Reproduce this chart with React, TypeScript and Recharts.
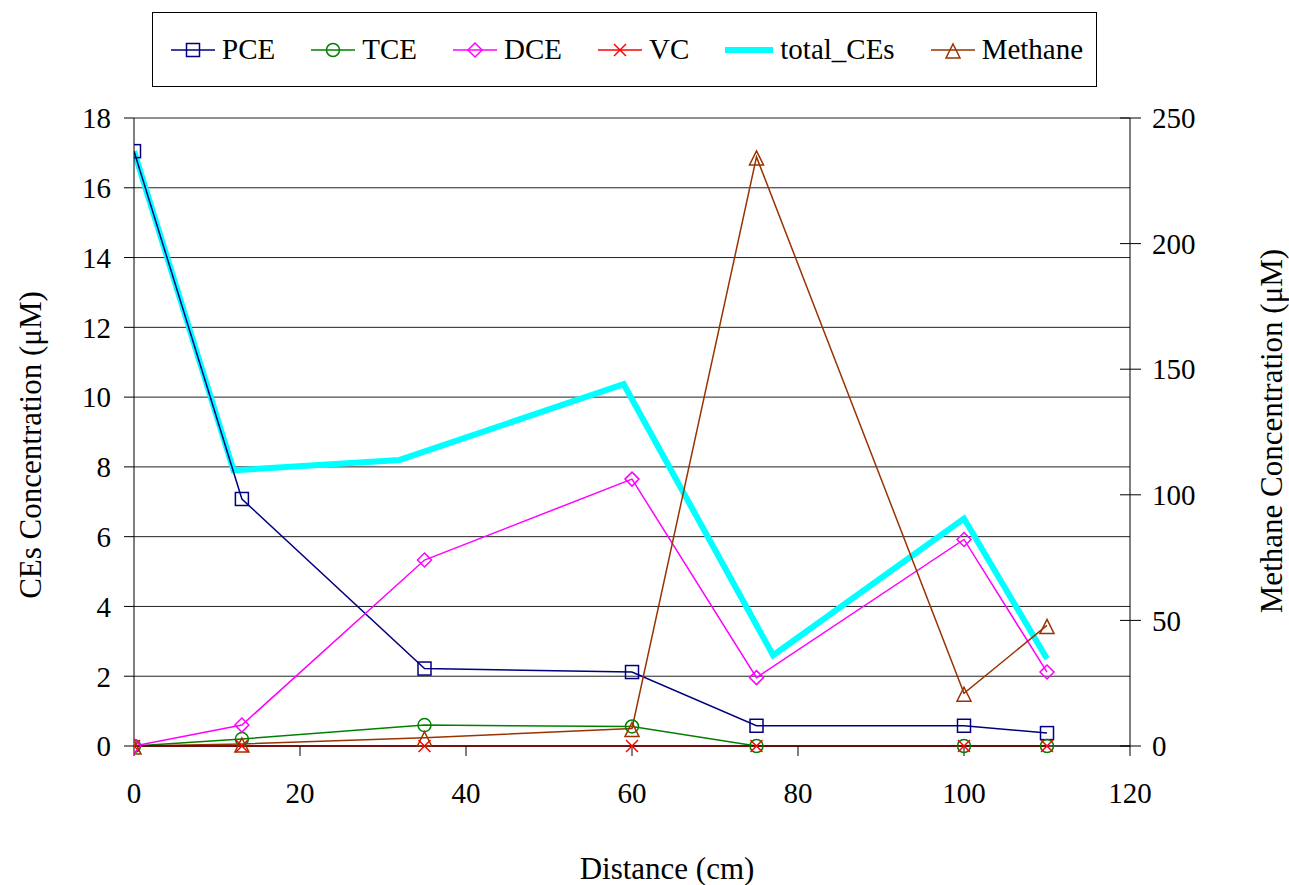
import { ComposedChart, Line, XAxis, YAxis, CartesianGrid, Legend } from 'recharts'

const FONT = 'Liberation Serif, DejaVu Serif, Times New Roman, serif'

// sampling positions along the column (cm)
const distance = [0, 13, 35, 60, 75, 100, 110]
const pce = [17.05, 7.08, 2.22, 2.12, 0.58, 0.58, 0.37]
const tce = [0, 0.2, 0.6, 0.56, 0, 0, 0]
const dce = [0, 0.6, 5.33, 7.65, 1.96, 5.92, 2.12]
const vc = [0, 0, 0, 0, 0, 0, 0]
const methane = [0, 0.8, 3.3, 7, 234.5, 21, 48]

// total CEs was plotted against its own distance column
const totalDistance = [0, 12, 32, 59, 77, 100, 110]
const totalCEs = [17.05, 7.9, 8.2, 10.37, 2.6, 6.52, 2.5]

const xTicks = [0, 20, 40, 60, 80, 100, 120]
const leftTicks = [0, 2, 4, 6, 8, 10, 12, 14, 16, 18]
const rightTicks = [0, 50, 100, 150, 200, 250]

const seriesNames = ['PCE', 'TCE', 'DCE', 'VC', 'total_CEs', 'Methane']

const rows = distance.map((d, i) => ({
  distance: d,
  pce: pce[i],
  tce: tce[i],
  dce: dce[i],
  vc: vc[i],
  methane: methane[i],
}))

const totalRows = totalDistance.map((d, i) => ({ distance: d, total: totalCEs[i] }))

type Shape = 'square' | 'circle' | 'diamond' | 'cross' | 'triangle' | 'none'

const legendItems: { shape: Shape; color: string; width: number }[] = [
  { shape: 'square', color: '#000080', width: 1.5 },
  { shape: 'circle', color: '#008000', width: 1.5 },
  { shape: 'diamond', color: '#FF00FF', width: 1.5 },
  { shape: 'cross', color: '#FF0000', width: 1.5 },
  { shape: 'none', color: '#00FFFF', width: 6 },
  { shape: 'triangle', color: '#993300', width: 1.5 },
]

// open Excel-style markers
function markerShape(shape: Shape, cx: number, cy: number, color: string) {
  const sw = 1.5
  switch (shape) {
    case 'square':
      return <rect x={cx - 6.5} y={cy - 6.5} width={13} height={13} fill="none" stroke={color} strokeWidth={sw} />
    case 'circle':
      return <circle cx={cx} cy={cy} r={6.5} fill="none" stroke={color} strokeWidth={sw} />
    case 'diamond':
      return (
        <polygon
          points={`${cx},${cy - 7} ${cx + 7},${cy} ${cx},${cy + 7} ${cx - 7},${cy}`}
          fill="none"
          stroke={color}
          strokeWidth={sw}
        />
      )
    case 'cross':
      return (
        <g stroke={color} strokeWidth={sw}>
          <line x1={cx - 6} y1={cy - 6} x2={cx + 6} y2={cy + 6} />
          <line x1={cx - 6} y1={cy + 6} x2={cx + 6} y2={cy - 6} />
        </g>
      )
    case 'triangle':
      return (
        <polygon
          points={`${cx},${cy - 6} ${cx + 7},${cy + 8} ${cx - 7},${cy + 8}`}
          fill="none"
          stroke={color}
          strokeWidth={sw}
        />
      )
    default:
      return null
  }
}

const dotRenderer = (shape: Shape, color: string) => (props: any) => {
  const { cx, cy, index } = props
  if (cx == null || cy == null) return <g key={`d-${index}`} />
  return <g key={`d-${shape}-${index}`}>{markerShape(shape, cx, cy, color)}</g>
}

const LegendBox = () => (
  <div
    style={{
      boxSizing: 'border-box',
      width: 945,
      height: 75,
      border: '1px solid #000',
      display: 'flex',
      alignItems: 'center',
      paddingLeft: 18,
      fontFamily: FONT,
      fontSize: 29,
      color: '#000',
      background: '#fff',
    }}
  >
    {legendItems.map((item, i) => {
      const w = item.shape === 'none' ? 48 : 44
      return (
        <div key={i} style={{ display: 'flex', alignItems: 'center', marginRight: 36 }}>
          <svg width={w} height={24} style={{ display: 'block' }}>
            <line x1={0} x2={w} y1={12} y2={12} stroke={item.color} strokeWidth={item.width} />
            {markerShape(item.shape, w / 2, 12, item.color)}
          </svg>
          <span style={{ marginLeft: 7, lineHeight: 1 }}>{seriesNames[i]}</span>
        </div>
      )
    })}
  </div>
)

// right axis ticks cross the axis line
const RightTick = (props: any) => {
  const { x, y, payload } = props
  const axisX = x - 22
  return (
    <g>
      <line x1={axisX - 10} x2={axisX + 11} y1={y} y2={y} stroke="#000" strokeWidth={1} />
      <text x={x} y={y} dy="0.35em" textAnchor="start" fontSize={29} fontFamily={FONT} fill="#000">
        {payload.value}
      </text>
    </g>
  )
}

const xTitle = (props: any) => {
  const { x, y } = props.viewBox
  return (
    <text x={x + 533} y={y + 122} textAnchor="middle" dominantBaseline="central" fontSize={31} fontFamily={FONT} fill="#000">
      Distance (cm)
    </text>
  )
}

const leftTitle = (props: any) => {
  const { x, y, height } = props.viewBox
  const cx = x + 30
  const cy = y + height / 2 + 13
  return (
    <text
      x={cx}
      y={cy}
      transform={`rotate(-90 ${cx} ${cy})`}
      textAnchor="middle"
      dominantBaseline="central"
      fontSize={31}
      fontFamily={FONT}
      fill="#000"
    >
      CEs Concentration (μM)
    </text>
  )
}

const rightTitle = (props: any) => {
  const { x, y, height } = props.viewBox
  const cx = x + 141
  const cy = y + height / 2 - 1
  return (
    <text
      x={cx}
      y={cy}
      transform={`rotate(-90 ${cx} ${cy})`}
      textAnchor="middle"
      dominantBaseline="central"
      fontSize={31}
      fontFamily={FONT}
      fill="#000"
    >
      Methane Concentration (μM)
    </text>
  )
}

const tickStyle = { fontSize: 29, fontFamily: FONT, fill: '#000' }

export default function App() {
  return (
    <div style={{ position: 'absolute', left: 0, top: 0, background: '#fff', fontFamily: FONT }}>
      <ComposedChart width={1289} height={885} data={rows} margin={{ top: 43, right: 0, bottom: 0, left: 0 }}>
        <CartesianGrid yAxisId="left" vertical={false} stroke="#222" strokeWidth={1} />
        <XAxis
          dataKey="distance"
          type="number"
          domain={[0, 120]}
          ticks={xTicks}
          interval={0}
          height={139}
          tick={tickStyle}
          tickSize={10}
          tickMargin={26}
          axisLine={{ stroke: '#000' }}
          tickLine={{ stroke: '#000' }}
          allowDataOverflow
          label={xTitle}
        />
        <YAxis
          yAxisId="left"
          domain={[0, 18]}
          ticks={leftTicks}
          interval={0}
          width={134}
          tick={tickStyle}
          tickSize={10}
          tickMargin={13}
          axisLine={{ stroke: '#000' }}
          tickLine={{ stroke: '#000' }}
          label={leftTitle}
        />
        <YAxis
          yAxisId="right"
          orientation="right"
          domain={[0, 250]}
          ticks={rightTicks}
          interval={0}
          width={159}
          tick={<RightTick />}
          tickSize={10}
          tickMargin={12}
          axisLine={{ stroke: '#000' }}
          tickLine={false}
          label={rightTitle}
        />
        <Legend verticalAlign="top" content={<LegendBox />} wrapperStyle={{ top: 12, left: 152, width: 945, height: 75 }} />

        <Line
          yAxisId="left"
          data={totalRows}
          dataKey="total"
          name="total_CEs"
          type="linear"
          stroke="#00FFFF"
          strokeWidth={6}
          dot={false}
          isAnimationActive={false}
        />
        <Line
          yAxisId="left"
          dataKey="pce"
          name="PCE"
          type="linear"
          stroke="#000080"
          strokeWidth={1.5}
          dot={dotRenderer('square', '#000080')}
          isAnimationActive={false}
        />
        <Line
          yAxisId="left"
          dataKey="tce"
          name="TCE"
          type="linear"
          stroke="#008000"
          strokeWidth={1.5}
          dot={dotRenderer('circle', '#008000')}
          isAnimationActive={false}
        />
        <Line
          yAxisId="left"
          dataKey="dce"
          name="DCE"
          type="linear"
          stroke="#FF00FF"
          strokeWidth={1.5}
          dot={dotRenderer('diamond', '#FF00FF')}
          isAnimationActive={false}
        />
        <Line
          yAxisId="left"
          dataKey="vc"
          name="VC"
          type="linear"
          stroke="#FF0000"
          strokeWidth={1.5}
          dot={dotRenderer('cross', '#FF0000')}
          isAnimationActive={false}
        />
        <Line
          yAxisId="right"
          dataKey="methane"
          name="Methane"
          type="linear"
          stroke="#993300"
          strokeWidth={1.5}
          dot={dotRenderer('triangle', '#993300')}
          isAnimationActive={false}
        />
      </ComposedChart>
    </div>
  )
}
